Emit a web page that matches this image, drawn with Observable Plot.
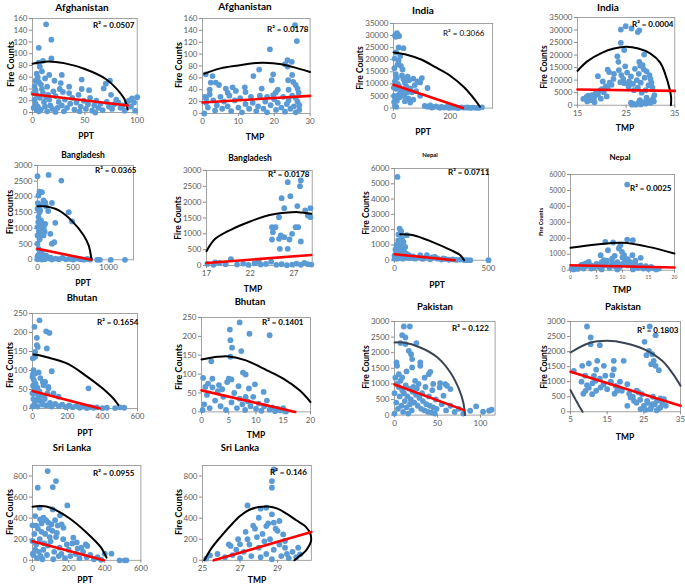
<!DOCTYPE html>
<html><head><meta charset="utf-8">
<script src="https://cdn.jsdelivr.net/npm/d3@7"></script>
<script src="https://cdn.jsdelivr.net/npm/@observablehq/plot@0.6"></script>
<style>
body{margin:0;background:#fff;}
#wrap{position:relative;width:685px;height:587px;overflow:hidden;font-family:Lato,"Noto Sans",sans-serif;}
.t{position:absolute;white-space:nowrap;color:#000;font-weight:bold;line-height:1;}
</style></head><body><div id="wrap"></div>
<script>
// ---------- DATA ----------
const afgPptPts=[[13,150],[18,124],[6,110],[18,92],[10,88],[6,85],[7,78],[4,66],[28,64],[21,54],[47,56],[54,38],[47,40],[35,44],[70,49],[74,54],[68,41],[82,17],[92,20],[97,17],[100,26],[98,3],[2,45],[3,38],[5,60],[6,52],[8,48],[9,40],[4,30],[7,25],[10,33],[12,58],[14,44],[15,30],[16,22],[11,18],[3,15],[1,8],[2,22],[5,10],[8,5],[12,10],[17,12],[20,36],[22,28],[25,18],[26,40],[29,35],[19,6],[24,8],[28,12],[31,22],[33,8],[36,15],[38,25],[40,5],[42,17],[44,30],[46,10],[49,20],[51,6],[53,14],[55,25],[57,3],[59,12],[61,20],[63,8],[65,15],[67,4],[71,18],[73,10],[76,6],[78,14],[80,22],[84,8],[86,12],[88,3],[90,16],[94,10],[30,2],[14,2],[6,2],[22,1],[35,33],[27,50],[9,70],[3,54],[16,64],[1,33],[13,26],[4,4],[60,0],[45,2],[75,30],[95,24]];
const afgPptTrend=[[0,31],[91,12]];
const afgPptArc=[[0,83],[15,87],[30,84],[50,74],[70,57],[80,41],[88,22],[91,5]];

const afgTmpPts=[[25.8,149],[26.3,122],[18.8,108],[23.7,90],[24.9,87],[23,83],[23.7,79],[0.9,66],[15.8,74],[19.7,66],[19.3,56],[14.2,63],[2.8,63],[3.7,52],[2.3,52],[4.6,48],[8.4,44],[11.8,44],[6.5,42],[9.3,38],[16.5,42],[23.9,56],[25.3,53],[26,48],[20.4,35],[19.7,31],[26.5,42],[0.5,0],[0.7,28],[1,18],[1.5,10],[2,32],[3,22],[3.5,5],[4,14],[5,28],[5.5,8],[6,20],[7,12],[7.5,30],[8,4],[9,22],[10,10],[10.5,26],[11,2],[12,16],[13,8],[13.5,28],[14,18],[15,4],[15.5,12],[16,30],[17,8],[17.5,20],[18,2],[19,14],[20,24],[20.5,6],[21,18],[22,10],[22.5,28],[23,3],[23.5,16],[24,22],[24.5,8],[25,30],[25.5,12],[26,2],[26.5,20],[27,6],[26.8,35],[25,65],[24,40],[12,36],[7,35],[2,40],[1,25],[18,28],[21,40],[26,26],[27,14]];
const afgTmpTrend=[[0,18.5],[30,29.7]];
const afgTmpArc=[[0.5,67],[5,76],[10,81],[15,85],[17,85.5],[22,83],[25,78.5],[30,70]];

const indPptPts=[[8,29500],[15,30500],[12,31000],[5,30000],[20,29800],[18,25100],[35,24800],[24,21600],[18,19600],[100,12400],[94,10600],[120,8300],[94,5100],[59,2300],[3,16500],[8,14000],[12,12500],[5,11000],[15,10000],[20,9000],[10,8000],[25,7500],[30,13500],[35,12000],[40,10500],[45,9000],[50,13000],[55,11500],[60,8000],[65,6500],[70,12200],[75,9500],[80,7000],[85,11000],[28,6000],[2,5000],[6,4000],[12,3000],[18,5500],[22,4500],[38,5000],[48,6500],[52,4000],[42,7500],[32,16000],[26,17500],[14,18000],[4,20500],[9,23000],[1,8500],[2,2500],[5,1000],[10,500],[40,2800],[70,3500],[110,900],[120,600],[130,1100],[140,400],[150,700],[160,300],[170,500],[180,200],[190,600],[200,300],[210,150],[220,400],[230,100],[240,300],[250,150],[260,250],[270,80],[280,200],[290,100],[300,50],[312,300],[135,200],[165,100],[195,100],[225,50]];
const indPptTrend=[[0,9650],[245,0]];
const indPptArc=[[0,23000],[50,22000],[100,20000],[150,16800],[200,13400],[250,8500],[290,3000],[305,550]];

const indTmpPts=[[23.9,30200],[24.9,31500],[26.1,30600],[27.7,29900],[27.4,29200],[23.9,24900],[24.6,22000],[23.2,19500],[23.4,17300],[28.7,20200],[27.7,17300],[19.2,11600],[21.2,14200],[21.5,13200],[16.2,2500],[16.8,3200],[17.2,3800],[17.6,2000],[18,4000],[18.4,3000],[18.8,5000],[19.2,4200],[19.6,5800],[20,6400],[20.4,5200],[20.8,7500],[21.2,6800],[21.6,9000],[22,8200],[22.4,10500],[17,1500],[18.5,1200],[19.8,2600],[21,3500],[22.5,12500],[20.2,9500],[23.5,14000],[24,12000],[24.4,10500],[24.8,15500],[25.2,13000],[25.6,9500],[26,11500],[26.4,8500],[26.8,14500],[27.2,10000],[27.6,12500],[28,9000],[28.4,16000],[28.8,11000],[29.2,13500],[29.6,8000],[30,10500],[30.4,7000],[30.8,4000],[29,6000],[28.2,5000],[27.4,7000],[26.6,6000],[25.5,7500],[24.6,8800],[23.8,9200],[29.8,12000],[30.2,9000],[28.6,14300],[27.9,15700],[26.5,500],[27,200],[27.5,800],[28,300],[28.5,1200],[29,600],[29.5,1800],[30,900],[30.5,2500],[26,1000],[27.8,2000],[29.2,3000],[30.7,1500],[26.2,200]];
const indTmpTrend=[[15,6250],[35,5700]];
const indTmpArc=[[15,13700],[17,17500],[20,20900],[22.5,22600],[25,23300],[27.5,22600],[30,20600],[32,17000],[33,12600],[34,6000],[34.25,3000],[34.2,0]];

const bgdPptPts=[[0,2660],[156,2700],[335,2520],[28,2170],[61,2150],[14,2045],[85,1890],[108,1830],[203,1810],[0,1620],[38,1570],[28,1515],[14,1360],[38,1145],[108,1145],[0,1040],[61,985],[0,775],[85,775],[180,827],[250,1177],[439,1515],[486,1220],[203,510],[236,560],[0,510],[28,190],[61,245],[132,85],[10,1200],[50,1250],[90,1050],[20,900],[45,800],[70,1000],[5,1800],[120,1700],[150,1550],[40,1750],[100,900],[30,650],[15,350],[0,100],[20,60],[40,30],[70,120],[100,20],[150,50],[200,10],[250,40],[300,20],[350,60],[400,15],[450,30],[500,10],[550,40],[600,20],[650,5],[700,25],[740,10],[840,0],[878,0],[1030,0],[1230,0],[0,20],[10,150],[30,80],[60,10],[180,80],[120,140]];
const bgdPptTrend=[[0,350],[755,0]];
const bgdPptArc=[[0,1700],[100,1700],[300,1570],[500,1200],[650,775],[720,455],[760,0]];

const bgdTmpPts=[[26.3,2630],[27.8,2685],[27.7,2505],[25.6,2127],[26.6,2190],[25.9,1810],[27.4,1875],[28.9,1810],[25.3,1527],[28.3,1737],[28.6,1580],[28.9,1527],[24.5,1211],[24.9,1211],[24.6,1053],[25.5,948],[25.3,842],[25.9,895],[24.5,821],[27.2,1211],[27.5,1211],[26.8,1000],[26.5,821],[27.8,758],[25.4,526],[26.3,526],[17.1,50],[17.8,20],[18.5,80],[19.2,40],[19.8,200],[20.5,30],[21.2,60],[21.8,20],[22.5,70],[23.2,30],[23.8,50],[24.4,120],[25,20],[25.6,40],[26.2,10],[26.8,30],[27.3,60],[27.8,20],[28.2,80],[28.6,40],[29,30],[18,100],[23,110]];
const bgdTmpTrend=[[17,80],[29,330]];
const bgdTmpArc=[[17,450],[18,842],[20,1158],[22,1390],[24,1580],[26,1664],[27.5,1685],[29,1632]];

const npPptPts=[[16,5450],[27,2070],[35,1900],[21,1680],[66,1635],[48,1200],[30,980],[57,870],[5,700],[10,500],[15,800],[20,400],[25,600],[30,300],[35,700],[40,500],[45,350],[50,600],[55,250],[60,450],[65,200],[70,380],[75,150],[80,300],[10,1000],[20,1300],[40,1450],[5,200],[15,100],[25,150],[45,100],[90,150],[110,100],[130,200],[137,327],[150,80],[172,327],[190,60],[216,218],[230,100],[250,40],[270,80],[290,30],[310,50],[330,20],[350,40],[370,10],[385,0],[403,0],[500,0],[0,300],[0,100],[100,250],[160,150],[200,180],[260,120]];
const npPptTrend=[[0,392],[320,0]];
const npPptArc=[[30,1700],[100,1635],[200,1200],[300,654],[350,327],[370,0]];

const npTmpPts=[[10.9,5370],[10.9,1920],[12,1880],[6.7,1775],[8.2,1735],[9.6,1570],[9.3,1360],[7.2,1250],[9.9,1150],[10.3,940],[11.9,940],[5.8,940],[13.5,773],[8,730],[6.4,627],[3.5,522],[2.9,418],[2.2,355],[0.2,100],[0.6,50],[1,150],[1.4,80],[1.8,200],[2.5,100],[3,250],[4,300],[4.5,150],[5,400],[5.5,200],[6,500],[6.5,300],[7,350],[7.5,150],[8,450],[8.5,250],[9,500],[9.5,200],[10,400],[10.5,600],[11,300],[11.5,500],[12,200],[12.5,400],[13,150],[13.5,300],[14,100],[14.5,250],[15,80],[15.5,200],[16,120],[16.5,50],[17,100],[10,800],[11,700],[12.5,600],[7,600],[8.5,900],[2,300],[4,100],[6,50],[9,50],[12,50]];
const npTmpTrend=[[0,313],[20,167]];
const npTmpArc=[[0,1400],[5,1610],[10,1714],[15,1463],[20,1045]];

const btnPptPts=[[40,232],[11,215],[78,203],[97,199],[25,186],[25,167],[30,162],[15,149],[82,158],[2,132],[15,136],[110,98],[6,101],[15,92],[0,83],[59,70],[63,61],[91,57],[72,70],[91,53],[320,53],[120,40],[149,31],[3,60],[8,75],[12,50],[18,65],[22,40],[28,55],[35,30],[40,45],[45,20],[50,35],[55,15],[5,25],[10,10],[20,20],[30,5],[60,10],[70,25],[80,8],[100,15],[110,5],[130,12],[150,6],[170,10],[190,4],[210,8],[230,3],[250,6],[270,2],[290,5],[310,1],[330,4],[350,2],[368,3],[400,1],[425,2],[472,1],[500,3],[524,2],[0,5],[0,40],[2,90],[45,80],[35,95],[85,40],[65,32]];
const btnPptTrend=[[0,46],[385,0]];
const btnPptArc=[[6,142],[50,139],[100,133],[200,118],[300,88],[400,53],[470,22],[490,9]];

const btnTmpPts=[[7,237],[5.2,218],[12.5,203],[8.8,207],[5.3,190],[5.6,170],[5.3,146],[7.3,161],[1.8,134],[7.6,104],[8.1,99],[0.3,90],[2,88],[5,88],[5.5,86],[4.7,79],[3.2,71],[0.7,66],[9.8,73],[8.7,62],[11.4,53],[8.1,40],[0.5,20],[1,45],[1.5,10],[2.5,30],[3,55],[3.5,15],[4,40],[4.5,5],[5.5,25],[6,50],[6.5,10],[7,35],[7.5,20],[8,5],[8.5,28],[9,15],[9.5,40],[10,8],[10.5,22],[11,3],[11.5,15],[12,30],[12.5,6],[13,12],[13.5,2],[14,8],[14.5,4],[15,10],[15.5,1],[0.2,5],[2,65],[3.8,60],[6.8,68],[1.2,75]];
const btnTmpTrend=[[0,57],[17.2,0]];
const btnTmpArc=[[0,139],[3,146],[5,147],[8,137],[12,110],[15,88],[18,57],[20,26]];

const pakPptPts=[[10.8,2840],[17.8,2840],[8.9,2563],[12.7,2490],[7,2307],[25.5,2307],[12.7,2275],[16.6,2060],[19.3,1954],[20.5,1794],[30,1687],[2.3,1687],[3,1580],[20.5,1527],[30,1580],[41.7,1388],[39.8,1313],[5,1313],[8.9,1207],[53,1025],[59,993],[61,940],[52.5,886],[65,833],[57,620],[88,139],[95,278],[103,107],[110,139],[113,171],[1,1200],[3,1000],[5,900],[7,1100],[9,800],[11,700],[13,950],[15,600],[17,850],[19,500],[21,750],[23,400],[25,650],[27,300],[29,550],[31,200],[33,450],[35,150],[37,350],[39,100],[41,300],[43,80],[45,250],[47,50],[49,200],[2,400],[4,200],[6,600],[8,300],[10,100],[12,450],[14,250],[16,50],[18,350],[20,150],[22,900],[24,1100],[26,850],[28,1000],[32,700],[36,900],[40,600],[44,800],[48,500],[55,350],[60,150],[65,300],[70,100],[75,200],[80,50],[0,700],[0,50],[14,1400],[35,1200],[45,1000]];
const pakPptTrend=[[0,983],[81,160]];
const pakPptArc=[[0,2328],[10,2328],[30,2168],[50,1848],[65,1367],[75,833],[80,406],[82,0]];

const pakTmpPts=[[9.5,2834],[10.5,2468],[10.5,2247],[13,2214],[26.6,2834],[28.2,2546],[25.2,2325],[26.4,2026],[27.3,1915],[25.7,1882],[27.7,1694],[27,1583],[28.2,1528],[29.1,1384],[5.9,1362],[8.2,1528],[10,1605],[12.3,1694],[14.1,1528],[16.8,1694],[16.8,1417],[16.4,1218],[19.5,1694],[11.4,1196],[11.8,1030],[9.5,886],[9.1,697],[10.9,587],[13.2,808],[15.9,974],[17.3,863],[17.7,697],[20.5,919],[21.4,476],[22.3,365],[23.6,642],[24.5,587],[25.9,365],[27.3,255],[28.6,365],[29.5,443],[30.5,420],[29.5,144],[24.1,89],[25.5,66],[26.8,89],[20.5,199],[8,1000],[9,1200],[10,800],[11,950],[12,700],[13,1100],[14,900],[15,750],[16,1000],[17,600],[18,800],[19,700],[21,600],[22,500],[23,300],[24,400],[25,200],[26,300],[27,150],[28,250],[29,100],[30,300],[31,200],[27.5,500],[28.5,50],[23,700],[8.5,600],[12,1400],[14.5,1200],[18.5,1000]];
const pakTmpTrend=[[5,1328],[35,199]];
const pakTmpArc=[[5,1970],[10,2280],[15,2358],[20,2280],[25,2081],[30,1694],[33,1251],[35,863]];
const pakTmpArc2=[[5,720],[6.5,380],[7.5,160],[8.3,0]];

const lkaPptPts=[[84,847],[130,752],[112,695],[29,689],[193,521],[112,483],[39,499],[152,427],[15,420],[61,404],[42,389],[0,332],[88,357],[161,341],[171,310],[226,215],[295,152],[303,136],[0,183],[2,63],[400,63],[437,63],[482,0],[510,0],[520,0],[10,250],[20,150],[30,300],[40,200],[50,350],[60,100],[70,250],[80,50],[90,300],[100,180],[110,280],[120,80],[130,220],[140,330],[150,120],[160,60],[170,200],[180,20],[190,150],[200,100],[210,40],[220,160],[240,60],[250,110],[260,20],[280,80],[300,30],[320,50],[340,10],[360,30],[380,5],[5,50],[15,100],[25,20],[35,80],[45,40],[55,10],[65,160],[75,380],[95,220],[105,340],[125,380],[135,260],[145,40],[115,10],[85,140],[50,270],[20,330],[245,170],[270,120]];
const lkaPptTrend=[[0,180],[395,0]];
const lkaPptArc=[[0,509],[50,515],[100,499],[200,404],[300,262],[380,120],[410,25]];

const lkaTmpPts=[[28.8,863],[28.7,752],[28.7,689],[27.4,521],[28.1,490],[28.4,499],[28.7,436],[28,404],[29.1,373],[28.8,357],[28.4,325],[29.3,246],[29.4,183],[27,152],[26.5,136],[26.4,152],[25.2,16],[25.4,47],[30.1,120],[30.2,57],[26.6,50],[26.8,100],[27,20],[27.2,80],[27.4,200],[27.6,40],[27.8,300],[28,120],[28.2,250],[28.4,60],[28.6,200],[28.8,100],[29,280],[29.2,40],[29.4,120],[29.6,20],[29.8,80],[30,30],[27.5,150],[27.9,220],[28.3,180],[28.5,350],[28.9,300],[29.1,150],[27.3,270],[27.7,330],[28.1,30],[28.7,10],[29.5,60],[26.9,200],[26.2,30],[25.8,60]];
const lkaTmpTrend=[[25.6,0],[30.8,269]];
const lkaTmpArc=[[25.1,0],[25.5,120],[26,230],[26.5,330],[27,420],[27.5,480],[28,505],[28.5,510],[29,490],[29.5,440],[30,380],[30.5,320],[30.75,250],[30.78,180],[30.5,90],[30.1,30],[29.9,0]];

// tick labels
const ticks160=[0,20,40,60,80,100,120,140,160];
const ticks35k=[0,5000,10000,15000,20000,25000,30000,35000];
const ticks3k=[0,500,1000,1500,2000,2500,3000];
const ticks6k=[0,1000,2000,3000,4000,5000,6000];
const ticks250=[0,50,100,150,200,250];
const ticks800=[0,200,400,600,800];
const titles=["Afghanistan","Afghanistan","India","India","Bangladesh","Bangladesh","Nepal","Nepal","Bhutan","Bhutan","Pakistan","Pakistan","Sri Lanka","Sri Lanka"];
const r2Labels=["R² = 0.0507","R² = 0.0178","R² = 0.3066","R² = 0.0004","R² = 0.0365","R² = 0.0178","R² = 0.0711","R² = 0.0025","R² = 0.1654","R² = 0.1401","R² = 0.122","R² = 0.1803","R² = 0.0955","R² = 0.146"];
const yLabels=["Fire Counts","Fire Counts","Fire Counts","Fire Counts","Fire counts","Fire Counts","Fire Counts","Fire Counts","Fire Counts","Fire Counts","Fire Counts","Fire Counts","Fire Counts","Fire Counts"];
const xLabels=["PPT","TMP","PPT","TMP","PPT","TMP","PPT","TMP","PPT","TMP","","TMP","PPT","TMP"];

// ---------- LAYOUT ----------
const panels=[
 {pts:afgPptPts,tr:afgPptTrend,arcs:[afgPptArc],L:32.3,R:137,T:17.7,B:111.7,xd:[0,100],xt:[0,50,100],yd:[0,160],yt:ticks160,
  title:[82,7,10],yl:[5,64,9],xl:[86,136],r2:[93,25]},
 {pts:afgTmpPts,tr:afgTmpTrend,arcs:[afgTmpArc],L:201.7,R:309.3,T:18.3,B:113.3,xd:[0,30],xt:[0,10,20,30],yd:[0,160],yt:ticks160,
  title:[245,6,10],yl:[173,65,9],xl:[255,137],r2:[267,29]},
 {pts:indPptPts,tr:indPptTrend,arcs:[indPptArc],L:393.3,R:492.5,T:22.7,B:107.3,xd:[0,350],xt:[0,200],yd:[0,35000],yt:ticks35k,
  title:[423,10,10],yl:[355,68,8.5],xl:[423,132],r2:[443,33],r2w:"normal"},
 {pts:indTmpPts,tr:indTmpTrend,arcs:[indTmpArc],L:576.7,R:674,T:17.3,B:105,xd:[15,35],xt:[15,25,35],yd:[0,35000],yt:ticks35k,
  title:[608,7,10],yl:[539,67,8.5],xl:[625,128],r2:[632,24]},
 {pts:bgdPptPts,tr:bgdPptTrend,arcs:[bgdPptArc],L:37.3,R:133.3,T:165,B:259.3,xd:[0,1350],xt:[0,500,1000],yd:[0,3000],yt:ticks3k,
  title:[83,155,8.5],yl:[4,212,9],xl:[83,283],r2:[95,170]},
 {pts:bgdTmpPts,tr:bgdTmpTrend,arcs:[bgdTmpArc],L:206,R:311.7,T:170,B:265,xd:[17,29.1],xt:[17,22,27],yd:[0,3000],yt:ticks3k,
  title:[250,158,8.5],yl:[173,218,8.5],xl:[253,289],r2:[268,174]},
 {pts:npPptPts,tr:npPptTrend,arcs:[npPptArc],L:394.3,R:488.3,T:168.3,B:260,xd:[0,500],xt:[0,500],yd:[0,6000],yt:ticks6k,
  title:[430,155,6],yl:[361,213,8.5],xl:[437,285],r2:[448,172]},
 {pts:npTmpPts,tr:npTmpTrend,arcs:[npTmpArc],L:570,R:674,T:174.3,B:270,xd:[0,20],xt:[0,5,10,15,20],yd:[0,6000],yt:ticks6k,
  title:[620,157,8],yl:[539,222,5.5],xl:[622,290],r2:[630,188],ytf:7,xtf:5},
 {pts:btnPptPts,tr:btnPptTrend,arcs:[btnPptArc],L:32.3,R:137.3,T:313.3,B:408.3,xd:[0,600],xt:[0,200,400,600],yd:[0,250],yt:ticks250,
  title:[82,298,9.5],yl:[4,365,9],xl:[85,433],r2:[97,322]},
 {pts:btnTmpPts,tr:btnTmpTrend,arcs:[btnTmpArc],L:201,R:310,T:317.3,B:411.7,xd:[0,20],xt:[0,5,10,15,20],yd:[0,250],yt:ticks250,
  title:[250,302,9.5],yl:[173,367,9],xl:[256,435],r2:[262,322]},
 {pts:pakPptPts,tr:pakPptTrend,arcs:[pakPptArc],L:394,R:494.6,T:320.7,B:414.3,xd:[0,117],xt:[0,50,100],yd:[0,3000],yt:ticks3k,
  title:[435,307,9.5],yl:[361,367,8.5],xl:[444,440],r2:[452,328],arcColor:"#3b4454"},
 {pts:pakTmpPts,tr:pakTmpTrend,arcs:[pakTmpArc,pakTmpArc2],L:570,R:680,T:320.7,B:411,xd:[5,35],xt:[5,15,25,35],yd:[0,3000],yt:ticks3k,
  title:[623,307,9.5],yl:[539,367,8.5],xl:[625,437],r2:[637,330],arcColor:"#3b4454"},
 {pts:lkaPptPts,tr:lkaPptTrend,arcs:[lkaPptArc],L:32.3,R:140.7,T:464.5,B:559.3,xd:[0,600],xt:[0,200,400,600],yd:[0,900],yt:ticks800,
  title:[72,448,9.5],yl:[4,512,9],xl:[85,580],r2:[93,473]},
 {pts:lkaTmpPts,tr:lkaTmpTrend,arcs:[lkaTmpArc],L:201.7,R:310.5,T:464.5,B:559.3,xd:[25,30.8],xt:[25,27,29],yd:[0,900],yt:ticks800,
  title:[240,448,9.5],yl:[173,512,9],xl:[257,580],r2:[270,472]}
];

const wrap=document.getElementById("wrap");
function addText(txt,x,y,size,opts={}){
  const d=document.createElement("div");
  d.className="t";d.textContent=txt;
  d.style.fontSize=size+"px";
  d.style.left=x+"px";d.style.top=y+"px";
  if(opts.weight)d.style.fontWeight=opts.weight;
  d.style.transform=opts.rotate?"translate(-50%,-50%) rotate(-90deg)":(opts.left?"translate(0,-50%)":"translate(-50%,-50%)");
  wrap.appendChild(d);
}
const fmt=d=>String(d);
panels.forEach((p,i)=>{
  const ml=40,mr=8,mt=8,mb=24;
  const w=p.R-p.L+ml+mr, h=p.B-p.T+mt+mb;
  const ytf=p.ytf||8, xtf=p.xtf||8;
  const marks=[
    Plot.frame({stroke:"#8c8c8c",strokeWidth:0.8}),
    Plot.axisY({ticks:p.yt,tickFormat:fmt,tickSize:3,tickPadding:2,fontSize:ytf,label:null,stroke:"#8c8c8c",fill:"#595959"}),
    Plot.axisX({ticks:p.xt,tickFormat:fmt,tickSize:3,tickPadding:2,fontSize:xtf,label:null,stroke:"#8c8c8c",fill:"#595959"}),
    Plot.dot(p.pts,{x:d=>d[0],y:d=>d[1],r:2.9,fill:"#5B9BD5",stroke:"none"}),
    ...p.arcs.map(a=>Plot.line(a,{x:d=>d[0],y:d=>d[1],stroke:p.arcColor||"#000",strokeWidth:2,curve:"catmull-rom"})),
    Plot.line(p.tr,{x:d=>d[0],y:d=>d[1],stroke:"#ff0000",strokeWidth:2.6})
  ];
  const chart=Plot.plot({
    width:w,height:h,marginLeft:ml,marginRight:mr,marginTop:mt,marginBottom:mb,
    style:{fontFamily:"Lato, 'Noto Sans', sans-serif",background:"transparent",overflow:"visible"},
    x:{domain:p.xd},y:{domain:p.yd},
    marks
  });
  chart.style.position="absolute";
  chart.style.left=(p.L-ml)+"px";chart.style.top=(p.T-mt)+"px";
  wrap.appendChild(chart);
  addText(titles[i],p.title[0],p.title[1],p.title[2]);
  addText(yLabels[i],p.yl[0]+p.yl[2]*0.6,p.yl[1],p.yl[2],{rotate:true});
  if(xLabels[i])addText(xLabels[i],p.xl[0],p.xl[1],8.5);
  addText(r2Labels[i],p.r2[0],p.r2[1],8,{left:true,weight:p.r2w||"bold"});
});
</script></body></html>
